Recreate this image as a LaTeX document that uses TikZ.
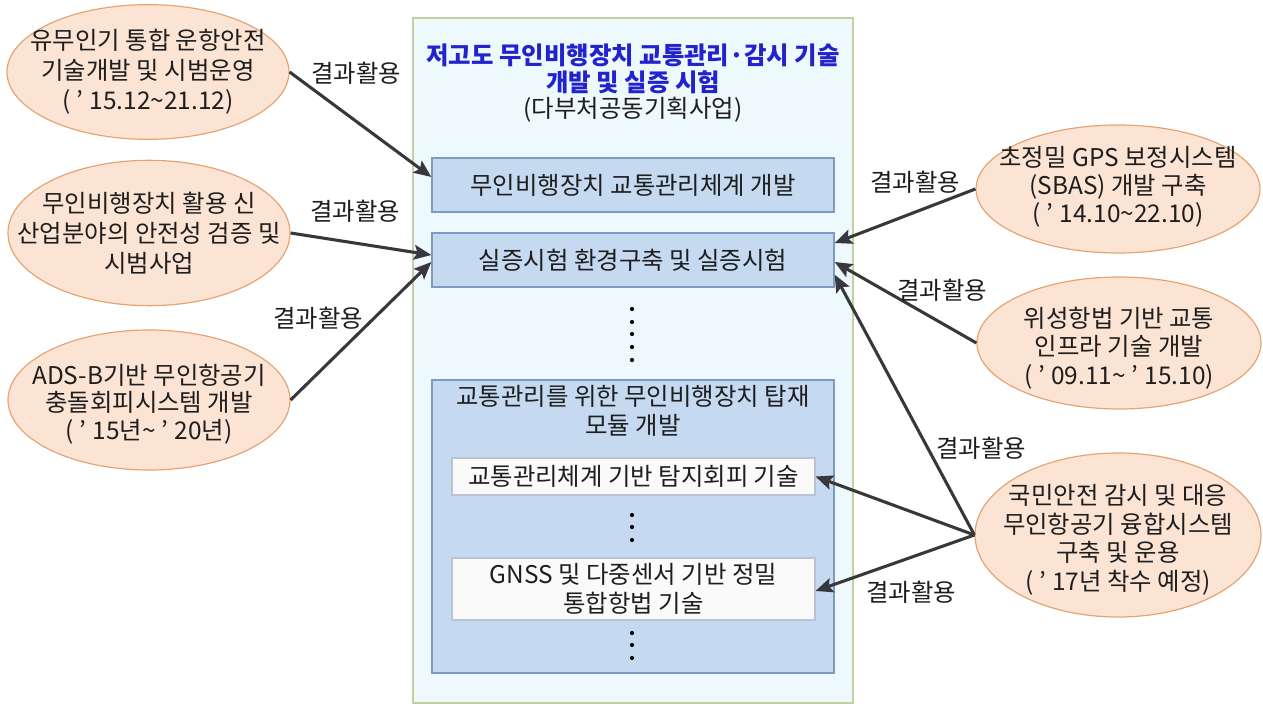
\documentclass[tikz,border=0pt]{standalone}
\usepackage{fontspec}
\setmainfont{Noto Sans CJK KR}
\usetikzlibrary{shapes.geometric,arrows.meta}
\definecolor{outerfill}{RGB}{238,249,253}
\definecolor{outerdraw}{RGB}{196,208,160}
\definecolor{boxfill}{RGB}{197,217,240}
\definecolor{boxdraw}{RGB}{125,155,190}
\definecolor{innerfill}{RGB}{250,250,250}
\definecolor{innerdraw}{RGB}{185,195,210}
\definecolor{ellfill}{RGB}{252,228,212}
\definecolor{elldraw}{RGB}{228,165,115}
\definecolor{arrowcol}{RGB}{55,55,60}
\definecolor{titleblue}{RGB}{35,35,205}
\definecolor{txt}{RGB}{30,30,30}
\newcommand{\tld}{\textasciitilde}
\newcommand{\apo}{\hspace{0.25em}’\hspace{0.25em}}
\begin{document}
\begin{tikzpicture}[x=0.75pt,y=-0.75pt,
  every node/.style={text=txt,font=\fontsize{18.3}{22.5}\selectfont,inner sep=0pt},
  ell/.style={ellipse,draw=elldraw,fill=ellfill,line width=0.9pt},
  etext/.style={align=center},
  blk/.style={rectangle,draw=boxdraw,fill=boxfill,line width=1pt,minimum width=301.5pt},
  inr/.style={rectangle,draw=innerdraw,fill=innerfill,line width=0.8pt,minimum width=272.25pt,align=center},
  conn/.style={draw=arrowcol,line width=2.3pt,-{Stealth[length=13pt,width=11pt,inset=2.5pt]}},
  lbl/.style={},
  dotc/.style={fill=black}
]
\useasboundingbox (0,0) rectangle (1263,706);
\fill[white] (0,0) rectangle (1263,706);

% outer box
\node[rectangle,draw=outerdraw,fill=outerfill,line width=1pt,minimum width=330pt,minimum height=513.75pt] (outer) at (633,360.5) {};
\node[font=\fontsize{18.3}{20.2}\selectfont\bfseries,text=titleblue,align=center] (title) at (633,68.5) {저고도 무인비행장치 교통관리·감시 기술\\개발 및 실증 시험};
\node (subtitle) at (633,110) {(다부처공동기획사업)};

% blocks
\node[blk,minimum height=40.5pt] (b1) at (633,185) {무인비행장치 교통관리체계 개발};
\node[blk,minimum height=40.5pt] (b2) at (633,260) {실증시험 환경구축 및 실증시험};
\node[blk,minimum height=219.75pt] (b3) at (633,526.5) {};
\node[align=center,font=\fontsize{18.3}{21.75}\selectfont] (b3t) at (633,410.5) {교통관리를 위한 무인비행장치 탑재\\모듈 개발};
\node[inr,minimum height=27.75pt] (ia) at (633.5,476.5) {교통관리체계 기반 탐지회피 기술};
\node[inr,minimum height=46.5pt,font=\fontsize{18.3}{22}\selectfont] (ib) at (633.5,589) {GNSS 및 다중센서 기반 정밀\\통합항법 기술};

% dots
\foreach \yy in {309,322,334,347,360,515,527,540,633,645,658}
  \fill[dotc] (632,\yy) circle (2.1);

% ellipses
\node[ell,minimum width=211.5pt,minimum height=101pt] (e1) at (148,72) {};
\node[etext] (e1t) at (e1.center) {유무인기 통합 운항안전\\기술개발 및 시범운영\\(\apo 15.12\tld 21.12)};
\node[ell,minimum width=211.5pt,minimum height=109pt] (e2) at (149,233) {};
\node[etext] (e2t) at (e2.center) {무인비행장치 활용 신\\산업분야의 안전성 검증 및\\시범사업};
\node[ell,minimum width=211.5pt,minimum height=105pt] (e3) at (149,400) {};
\node[etext,font=\fontsize{18.3}{20.6}\selectfont] (e3t) at (149,404) {ADS-B기반 무인항공기\\충돌회피시스템 개발\\(\apo 15년\tld\apo 20년)};
\node[ell,minimum width=213pt,minimum height=96pt] (e4) at (1118,189) {};
\node[etext,font=\fontsize{18.3}{21}\selectfont] (e4t) at (1118,187) {초정밀 GPS 보정시스템\\(SBAS) 개발 구축\\(\apo 14.10\tld 22.10)};
\node[ell,minimum width=213pt,minimum height=99pt] (e5) at (1119,343) {};
\node[etext,font=\fontsize{18.3}{21.5}\selectfont] (e5t) at (1119,348) {위성항법 기반 교통\\인프라 기술 개발\\(\apo 09.11\tld\apo 15.10)};
\node[ell,minimum width=214.5pt,minimum height=123pt] (e6) at (1118,535) {};
\node[etext,font=\fontsize{18.3}{21.4}\selectfont] (e6t) at (1118,540) {국민안전 감시 및 대응\\무인항공기 융합시스템\\구축 및 운용\\(\apo 17년 착수 예정)};

% connectors
\draw[conn] (e1.east) -- ([yshift=6pt]b1.west);
\draw[conn] (e2.east) -- ([yshift=3.75pt]b2.west);
\draw[conn] (e3.east) -- ([yshift=-1.5pt]b2.west);
\draw[conn] (e4.west) -- ([yshift=12.75pt]b2.east);
\draw[conn] (e5.west) -- ([yshift=-1.5pt]b2.east);
\draw[conn] (e6.west) -- ([yshift=-11pt]b2.east);
\draw[conn] (e6.west) -- (ia.east);
\draw[conn] (e6.west) -- ([yshift=-1.5pt]ib.east);

% labels
\node[lbl] (l1) at (356,73) {결과활용};
\node[lbl] (l2) at (355,211) {결과활용};
\node[lbl] (l3) at (318,318) {결과활용};
\node[lbl] (l4) at (915,182) {결과활용};
\node[lbl] (l5) at (942,290) {결과활용};
\node[lbl] (l6) at (981,448) {결과활용};
\node[lbl] (l7) at (911,592) {결과활용};
\end{tikzpicture}
\end{document}
